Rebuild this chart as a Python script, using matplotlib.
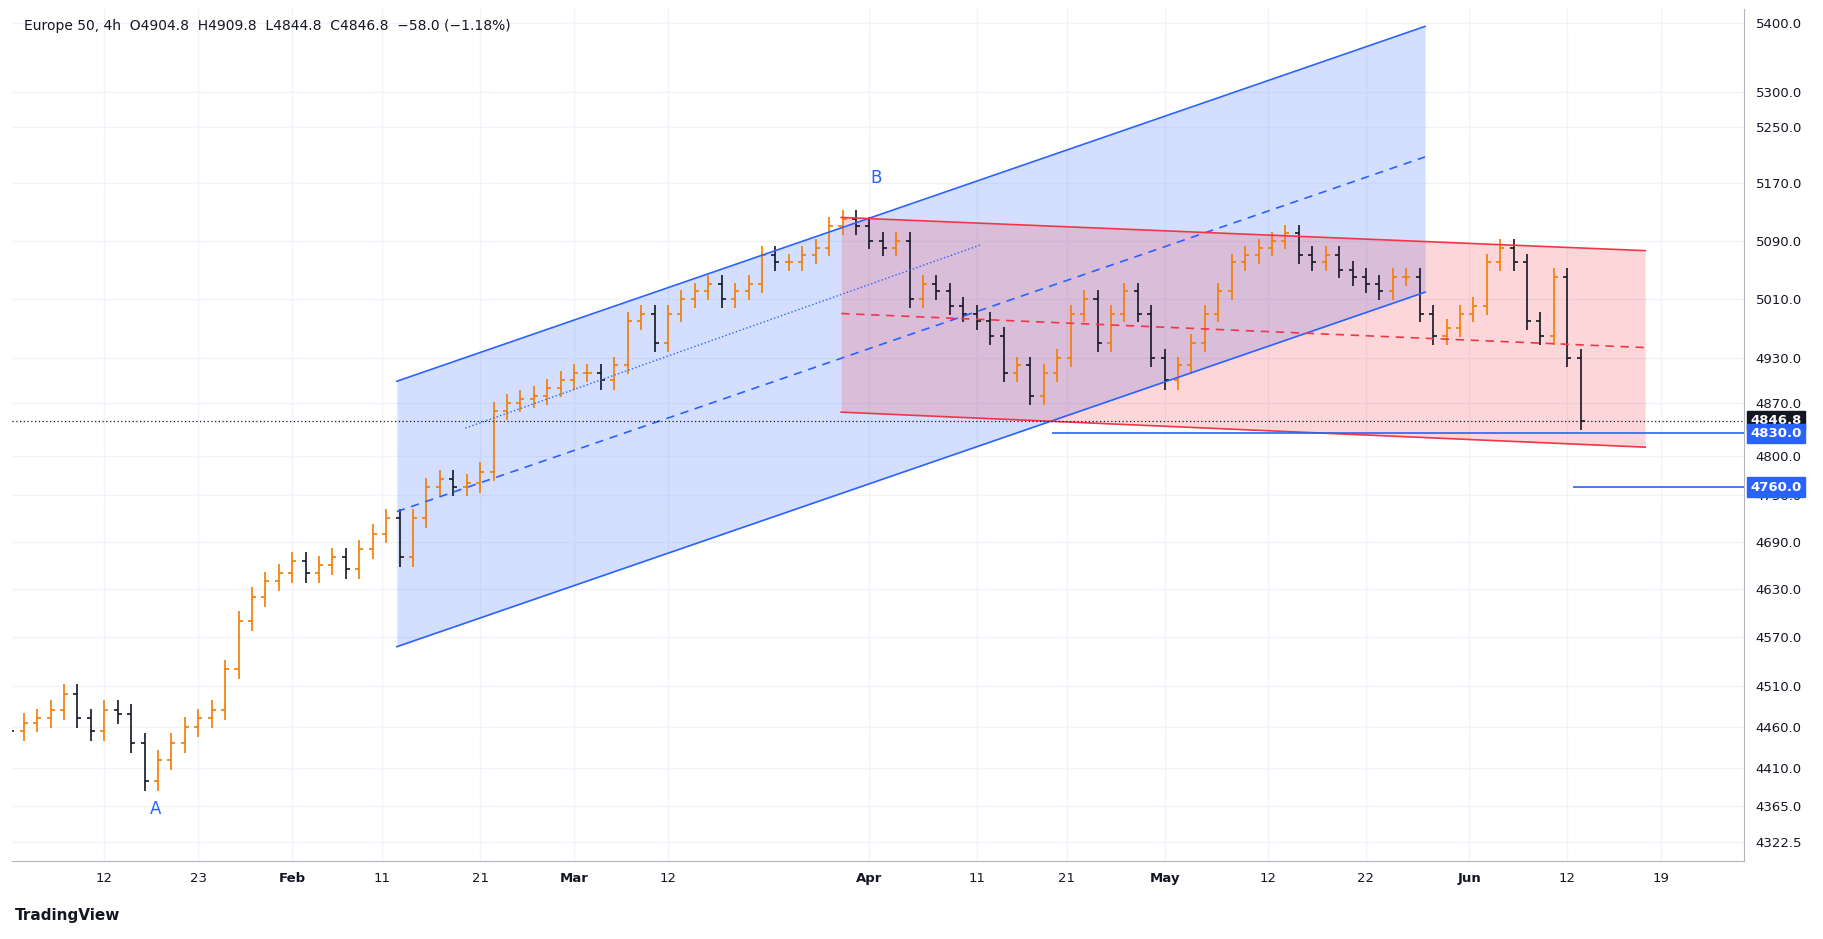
import numpy as np
import matplotlib.pyplot as plt
from matplotlib.ticker import FixedLocator, NullLocator

# daily closes (one per trading day, from 2 Jan 2024)
closes = [
    4470, 4455, 4465, 4470,
    4480, 4500, 4470, 4455, 4480,
    4475, 4440, 4395, 4420, 4440,
    4460, 4470, 4480, 4530, 4590,
    4620, 4640, 4650, 4665, 4650,
    4660, 4670, 4655, 4680, 4700,
    4720, 4670, 4720, 4760, 4770,
    4760, 4765, 4780, 4860, 4870,
    4875, 4880, 4890, 4900, 4910,
    4910, 4900, 4920, 4980, 4990,
    4950, 4990, 5010, 5020, 5030,
    5010, 5020, 5030, 5070, 5060,
    5060, 5070, 5080, 5110, 5120,
    5110, 5090, 5080, 5090, 5010,
    5030, 5020, 5000, 4990, 4980,
    4960, 4910, 4920, 4880, 4910,
    4930, 4990, 5010, 4950, 4990,
    5020, 4990, 4930, 4900, 4920,
    4950, 4990, 5020, 5060, 5070,
    5080, 5090, 5100, 5070, 5060,
    5070, 5050, 5040, 5030, 5020,
    5040, 5040, 4990, 4960, 4970,
    4990, 5000, 5060, 5080, 5060,
    4980, 4960, 5040, 4930, 4846.8,
]
wick = 12  # typical wick beyond body

# tick positions in trading-day index
tick_pos = [8, 15, 22, 28.7, 36, 43, 50, 65, 73, 79.7, 87, 94.7, 102, 109.7, 117, 124]
tick_labels = ["12", "23", "Feb", "11", "21", "Mar", "12", "Apr", "11", "21",
               "May", "12", "22", "Jun", "12", "19"]
price_ticks = [4322.5, 4365, 4410, 4460, 4510, 4570, 4630, 4690, 4750, 4800,
               4870, 4930, 5010, 5090, 5170, 5250, 5300, 5400]

# drawing anchors (trading-day index, price)
blue_upper = [(29.8, 4899), (106.4, 5395)]
blue_lower = [(29.8, 4558), (106.4, 5019)]
blue_dotted = [(34.9, 4837), (73.3, 5084)]
red_upper = [(62.9, 5122), (122.8, 5076)]
red_lower = [(62.9, 4858), (122.8, 4812)]
last_price = 4846.8
support1 = (78.6, 4830.0)
support2 = (117.4, 4760.0)
label_a = (11.8, 4372)
label_b = (65.5, 5165)

fig = plt.figure(figsize=(18.24, 9.39), dpi=100)
ax = fig.add_axes([0.0064, 0.083, 0.950, 0.907])
ax.set_yscale("log")

prev = closes[0]
for x, c in enumerate(closes):
    o = prev
    hi, lo = max(o, c) + wick, min(o, c) - wick
    col = "#f57c00" if c >= o else "#131722"
    ax.vlines(x, lo, hi, color=col, lw=1.2)
    ax.hlines(o, x - 0.3, x, color=col, lw=1.2)
    ax.hlines(c, x, x + 0.3, color=col, lw=1.2)
    prev = c

blue = "#2962ff"
red = "#f23645"
(x0, u0), (x1, u1) = blue_upper
(_, l0), (_, l1) = blue_lower
xs = np.array([x0, x1])
ax.fill_between(xs, [l0, l1], [u0, u1], color=blue, alpha=0.2, lw=0)
ax.plot(xs, [u0, u1], color=blue, lw=1.2)
ax.plot(xs, [l0, l1], color=blue, lw=1.2)
ax.plot(xs, [(u0 + l0) / 2, (u1 + l1) / 2], color=blue, lw=1.2, ls=(0, (5, 4)))
ax.plot([p[0] for p in blue_dotted], [p[1] for p in blue_dotted], color=blue, lw=1, ls=":")

(rx0, ru0), (rx1, ru1) = red_upper
(_, rl0), (_, rl1) = red_lower
rxs = np.array([rx0, rx1])
ax.fill_between(rxs, [rl0, rl1], [ru0, ru1], color=red, alpha=0.2, lw=0)
ax.plot(rxs, [ru0, ru1], color=red, lw=1.2)
ax.plot(rxs, [rl0, rl1], color=red, lw=1.2)
ax.plot(rxs, [(ru0 + rl0) / 2, (ru1 + rl1) / 2], color=red, lw=1.2, ls=(0, (5, 4)))

ax.text(*label_a, "A", color=blue, fontsize=12, ha="center", va="top")
ax.text(*label_b, "B", color=blue, fontsize=12, ha="center", va="bottom")

xmin, xmax = 1.1, 130.2
ax.axhline(last_price, color="#131722", lw=0.9, ls=(0, (1, 2)))
ax.hlines(support1[1], support1[0], xmax, color=blue, lw=1.2)
ax.hlines(support2[1], support2[0], xmax, color=blue, lw=1.2)

ax.set_xlim(xmin, xmax)
ax.set_ylim(4300, 5420)
ax.yaxis.tick_right()
ax.yaxis.set_major_locator(FixedLocator(price_ticks))
ax.yaxis.set_minor_locator(NullLocator())
ax.set_yticklabels([f"{p:.1f}" for p in price_ticks])
ax.xaxis.set_major_locator(FixedLocator(tick_pos))
ax.set_xticklabels(tick_labels)
ax.tick_params(colors="#131722", labelsize=9.5, length=0, pad=8)
for lbl in ax.get_xticklabels():
    if lbl.get_text() in ("Feb", "Mar", "Apr", "May", "Jun"):
        lbl.set_fontweight("bold")
ax.grid(True, color="#f0f3fa", lw=1)
ax.set_axisbelow(True)
for s in ("top", "left"):
    ax.spines[s].set_visible(False)
for s in ("right", "bottom"):
    ax.spines[s].set_color("#b2b5be")

# price labels on axis
for val, bg in ((last_price, "#131722"), (support1[1], blue), (support2[1], blue)):
    ax.annotate(f"{val:.1f}", xy=(1.0, val), xycoords=("axes fraction", "data"),
                xytext=(4, 0), textcoords="offset points", va="center", ha="left",
                color="white", fontsize=9.5, fontweight="bold",
                bbox=dict(boxstyle="square,pad=0.25", fc=bg, ec=bg))

fig.text(0.013, 0.968, "Europe 50, 4h  O4904.8  H4909.8  L4844.8  C4846.8  \u221258.0 (\u22121.18%)",
         fontsize=10, color="#131722")
fig.text(0.008, 0.02, "TradingView", fontsize=11, color="#131722", fontweight="bold")

fig.savefig("out.png", dpi=100)
